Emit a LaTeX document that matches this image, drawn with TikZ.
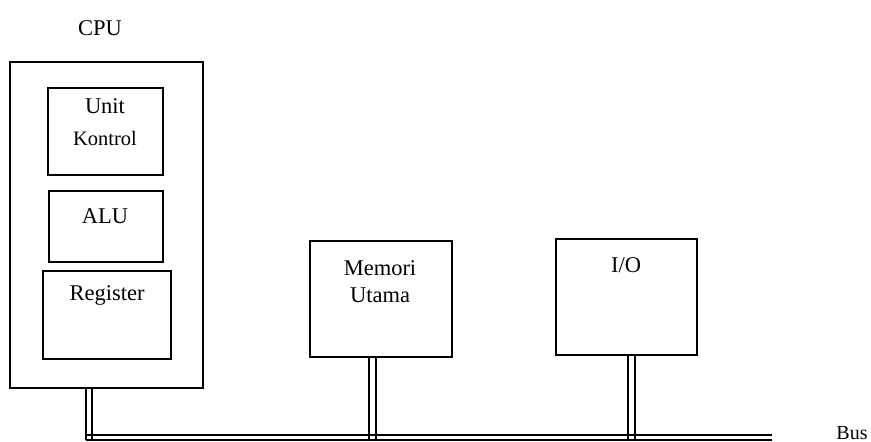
\documentclass[tikz,border=0pt]{standalone}
\usepackage{fontspec}
\setmainfont{Liberation Serif}
\usetikzlibrary{fit}
\begin{document}
\begin{tikzpicture}[x=1pt,y=-1pt,
  box/.style={draw,line width=1.6pt,inner sep=0pt},
  lbl/.style={anchor=base,inner sep=0pt,font=\fontsize{22.5}{26}\selectfont},
  wire/.style={line width=1.5pt}]
\useasboundingbox (0,0) rectangle (871,442);
% boxes
\node[box,fit={(10,62) (203,388)}] (cpu) {};
\node[box,fit={(48,88) (163,175)}] (uk) {};
\node[box,fit={(49,191) (163,262)}] (alu) {};
\node[box,fit={(43,271) (171,359)}] (reg) {};
\node[box,fit={(310,241) (452,357)}] (mem) {};
\node[box,fit={(556,239) (697,355)}] (io) {};
% labels
\node[lbl] (tcpu) at (100,35) {CPU};
\node[lbl] (tunit) at (105,113) {Unit};
\node[lbl,font=\fontsize{20.5}{24}\selectfont] (tkon) at (105,145) {Kontrol};
\node[lbl] (talu) at (105,223) {ALU};
\node[lbl] (treg) at (107,300) {Register};
\node[lbl] (tmem) at (380,275) {Memori};
\node[lbl] (tuta) at (380,302) {Utama};
\node[lbl] (tio) at (626,272) {I/O};
\node[lbl,font=\fontsize{20}{24}\selectfont] (tbus) at (852,439) {Bus};
% bus
\coordinate (busL1) at (86,435);
\coordinate (busR1) at (772,435);
\coordinate (busL2) at (86,440);
\coordinate (busR2) at (772,440);
\draw[wire] (busL1) -- (busR1);
\draw[wire] (busL2) -- (busR2);
% connectors
\draw[wire] (cpu.south -| 86,0) -- (busL2);
\draw[wire] (cpu.south -| 92,0) -- (92,440);
\draw[wire] (mem.south -| 369,0) -- (369,440);
\draw[wire] (mem.south -| 376,0) -- (376,440);
\draw[wire] (io.south -| 628,0) -- (628,440);
\draw[wire] (io.south -| 635,0) -- (635,440);
\end{tikzpicture}
\end{document}
